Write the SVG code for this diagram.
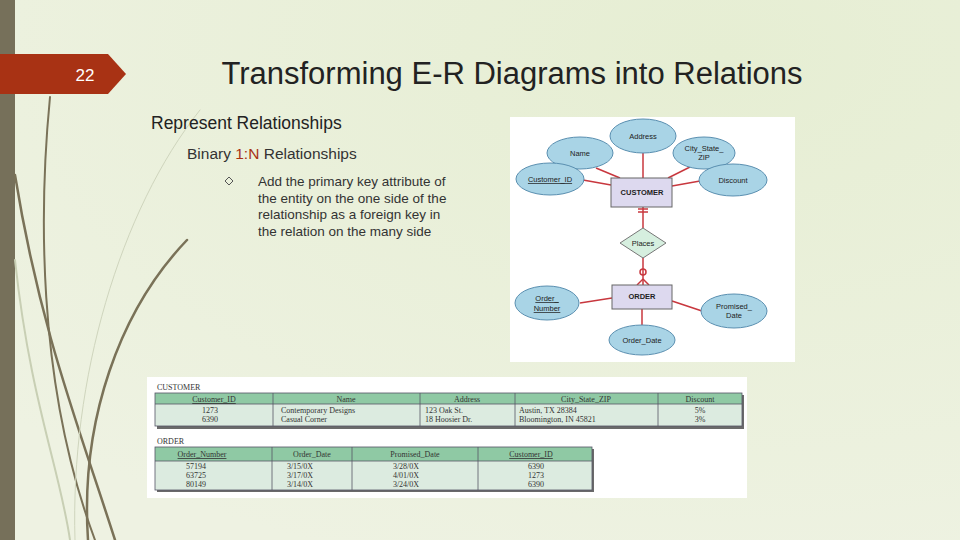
<svg xmlns="http://www.w3.org/2000/svg" width="960" height="540" viewBox="0 0 960 540">
<defs>
<radialGradient id="bg" cx="0.75" cy="0.1" r="1"><stop offset="0" stop-color="#e6eed3"/><stop offset="1" stop-color="#eef2e2"/></radialGradient>
<style>
.t{font-family:"Liberation Sans",Arial,sans-serif}
.s{font-family:"Liberation Serif","Times New Roman",serif;font-size:8px;fill:#333}
.el{fill:#a9d4e6;stroke:#5a8fb0;stroke-width:1}
.et{font-family:"Liberation Sans",Arial,sans-serif;font-size:7.5px;fill:#222;text-anchor:middle}
.ln{stroke:#c8373e;stroke-width:1.5;fill:none}
.hd{fill:#8fc9a4}.bd{fill:#dcebe0}
.gl{stroke:#556;stroke-width:0.8;fill:none}
.st{fill:none;stroke:#7a7258;stroke-linecap:round}
</style>
</defs>
<rect width="960" height="540" fill="url(#bg)"/>
<rect x="0" y="0" width="15" height="540" fill="#76705a"/>
<g class="st">
<path d="M50 97 C40 200 35 380 95 540" stroke-width="2"/>
<path d="M15 175 C40 330 80 430 115 540" stroke-width="2.5"/>
<path d="M187 240 C120 310 80 420 88 540" stroke-width="2.5"/>
<path d="M200 110 C120 210 70 380 75 540" stroke-width="1" stroke="#cfd5bd"/>
<path d="M15 260 C30 400 60 470 70 540" stroke-width="2" stroke="#c8cfb4"/>
</g>
<g id="tab"><path d="M0 54 H108 L126 74 L108 94 H0 Z" fill="#a83214"/><text x="85" y="81" class="t" font-size="17" fill="#fff" text-anchor="middle">22</text></g>
<text x="512" y="84" class="t" font-size="31" fill="#222" text-anchor="middle">Transforming E-R Diagrams into Relations</text>
<text x="151" y="129" class="t" font-size="17.5" fill="#222">Represent Relationships</text>
<text x="187" y="159" class="t" font-size="15.5" fill="#333">Binary <tspan fill="#a83214">1:N</tspan> Relationships</text>
<path d="M229 177 l4 4 -4 4 -4 -4 Z" fill="none" stroke="#555" stroke-width="1"/>
<g class="t" font-size="13.5" fill="#333"><text x="258" y="186">Add the primary key attribute of</text><text x="258" y="203">the entity on the one side of the</text><text x="258" y="219">relationship as a foreign key in</text><text x="258" y="236">the relation on the many side</text></g>

<rect x="510" y="117" width="285" height="245" fill="#fff"/>
<g id="connectors" class="ln">
<line x1="643" y1="153" x2="643" y2="178"/><line x1="596" y1="168" x2="620" y2="178"/><line x1="690" y1="167" x2="668" y2="178"/><line x1="583" y1="180" x2="611" y2="185"/><line x1="700" y1="181" x2="672" y2="186"/>
<line x1="643" y1="207" x2="643" y2="228"/><line x1="638" y1="209" x2="648" y2="209"/><line x1="638" y1="212" x2="648" y2="212"/>
<line x1="643" y1="258" x2="643" y2="285"/><circle cx="643" cy="272" r="3"/><line x1="643" y1="279" x2="637" y2="285"/><line x1="643" y1="279" x2="649" y2="285"/>
<line x1="580" y1="303" x2="612" y2="298"/><line x1="702" y1="311" x2="672" y2="301"/><line x1="642" y1="309" x2="642" y2="326"/>
</g>
<g id="customer"><rect x="611" y="178" width="61" height="29" fill="#ddd9ef" stroke="#666"/><text x="642" y="195" class="et" font-weight="bold">CUSTOMER</text></g>
<g id="order"><rect x="612" y="285" width="60" height="24" fill="#ddd9ef" stroke="#666"/><text x="642" y="299" class="et" font-weight="bold">ORDER</text></g>
<g id="places"><path d="M643 228 L666 243 L643 258 L620 243 Z" fill="#d6efdf" stroke="#777"/><text x="643" y="246" class="et">Places</text></g>
<g id="address"><ellipse cx="643" cy="136" rx="33" ry="17" class="el"/><text x="643" y="139" class="et">Address</text></g>
<g id="name"><ellipse cx="580" cy="153" rx="33" ry="16" class="el"/><text x="580" y="156" class="et">Name</text></g>
<g id="czip"><ellipse cx="704" cy="153" rx="31" ry="16" class="el"/><text x="704" y="151" class="et">City_State_</text><text x="704" y="160" class="et">ZIP</text></g>
<g id="cid"><ellipse cx="550" cy="179" rx="34" ry="16" class="el"/><text x="550" y="182" class="et" text-decoration="underline">Customer_ID</text></g>
<g id="discount"><ellipse cx="733" cy="180" rx="34" ry="16" class="el"/><text x="733" y="183" class="et">Discount</text></g>
<g id="onum"><ellipse cx="547" cy="303" rx="32" ry="17" class="el"/><text x="547" y="301" class="et" text-decoration="underline">Order_</text><text x="547" y="311" class="et" text-decoration="underline">Number</text></g>
<g id="pdate"><ellipse cx="734" cy="311" rx="33" ry="17" class="el"/><text x="734" y="309" class="et">Promised_</text><text x="734" y="318" class="et">Date</text></g>
<g id="odate"><ellipse cx="642" cy="340" rx="33" ry="15" class="el"/><text x="642" y="343" class="et">Order_Date</text></g>

<rect x="147" y="377" width="600" height="121" fill="#fff"/>
<text x="157" y="390" class="s">CUSTOMER</text>
<rect x="157" y="395" width="587" height="34" fill="#6a6a6a"/>
<rect x="155" y="393" width="587" height="11" class="hd"/><rect x="155" y="404" width="587" height="22" class="bd"/>
<g class="gl"><rect x="155" y="393" width="587" height="33"/><line x1="155" y1="404" x2="742" y2="404"/><line x1="273" y1="393" x2="273" y2="426"/><line x1="420" y1="393" x2="420" y2="426"/><line x1="515" y1="393" x2="515" y2="426"/><line x1="658" y1="393" x2="658" y2="426"/></g>
<g class="s" text-anchor="middle"><text x="214" y="402" text-decoration="underline">Customer_ID</text><text x="346" y="402">Name</text><text x="467" y="402">Address</text><text x="586" y="402">City_State_ZIP</text><text x="700" y="402">Discount</text>
<text x="210" y="413">1273</text><text x="210" y="422">6390</text><text x="700" y="413">5%</text><text x="700" y="422">3%</text></g>
<g class="s"><text x="281" y="413">Contemporary Designs</text><text x="281" y="422">Casual Corner</text><text x="425" y="413">123 Oak St.</text><text x="425" y="422">18 Hoosier Dr.</text><text x="519" y="413">Austin, TX 28384</text><text x="519" y="422">Bloomington, IN 45821</text></g>
<text x="157" y="444" class="s">ORDER</text>
<rect x="157" y="449" width="437" height="43" fill="#6a6a6a"/>
<rect x="155" y="447" width="437" height="14" class="hd"/><rect x="155" y="461" width="437" height="29" class="bd"/>
<g class="gl"><rect x="155" y="447" width="437" height="43"/><line x1="155" y1="461" x2="592" y2="461"/><line x1="272" y1="447" x2="272" y2="490"/><line x1="352" y1="447" x2="352" y2="490"/><line x1="478" y1="447" x2="478" y2="490"/></g>
<g class="s" text-anchor="middle"><text x="202" y="457" text-decoration="underline">Order_Number</text><text x="312" y="457">Order_Date</text><text x="415" y="457">Promised_Date</text><text x="531" y="457" text-decoration="underline">Customer_ID</text>
<text x="196" y="469">57194</text><text x="196" y="478">63725</text><text x="196" y="487">80149</text>
<text x="300" y="469">3/15/0X</text><text x="300" y="478">3/17/0X</text><text x="300" y="487">3/14/0X</text>
<text x="406" y="469">3/28/0X</text><text x="406" y="478">4/01/0X</text><text x="406" y="487">3/24/0X</text>
<text x="536" y="469">6390</text><text x="536" y="478">1273</text><text x="536" y="487">6390</text></g>
</svg>
